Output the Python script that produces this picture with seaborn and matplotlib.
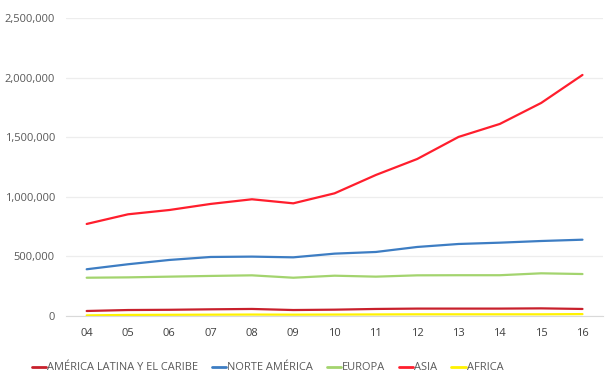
import pandas as pd
import matplotlib.pyplot as plt
import seaborn as sns
from matplotlib.ticker import FuncFormatter, FixedLocator

# Values
years = ['04', '05', '06', '07', '08', '09', '10', '11', '12', '13', '14', '15', '16']
america_latina = [42000, 50000, 52000, 56000, 59000, 50000, 53000, 59000, 62000, 62000, 62000, 64000, 59000]
norte_america = [392000, 434000, 470000, 495000, 498000, 492000, 523000, 537000, 579000, 604000, 615000, 629000, 640000]
europa = [321000, 324000, 330000, 336000, 341000, 321000, 338000, 330000, 341000, 342000, 342000, 358000, 352000]
asia = [772000, 853000, 889000, 940000, 979000, 945000, 1029000, 1183000, 1317000, 1502000, 1611000, 1787000, 2022000]
africa = [5000, 9000, 10000, 11000, 12000, 11000, 12000, 13000, 14000, 14000, 14000, 14000, 16000]

series = {
    'AMÉRICA LATINA Y EL CARIBE': america_latina,
    'NORTE AMÉRICA': norte_america,
    'EUROPA': europa,
    'ASIA': asia,
    'AFRICA': africa,
}
colors = {
    'AMÉRICA LATINA Y EL CARIBE': '#C8202C',
    'NORTE AMÉRICA': '#3D7DC3',
    'EUROPA': '#A3D46E',
    'ASIA': '#FF1E2D',
    'AFRICA': '#FFF200',
}

df = pd.DataFrame([
    {'year': y, 'region': name, 'value': v}
    for name, vals in series.items() for y, v in zip(years, vals)
])

sns.set_style('white')
plt.rcParams['font.family'] = ['Open Sans', 'DejaVu Sans']

fig, ax = plt.subplots(figsize=(6.08, 3.82), dpi=100)
fig.subplots_adjust(left=0.1086, right=0.992, top=0.953, bottom=0.1728)

sns.lineplot(data=df, x='year', y='value', hue='region', palette=colors,
             linewidth=1.6, ax=ax, legend=False, sort=False)

ax.set_ylim(0, 2500000)
ax.set_yticks(range(0, 2500001, 500000))
ax.yaxis.set_major_formatter(FuncFormatter(lambda v, p: f'{int(v):,}'))
ax.set_xlim(-0.5, len(years) - 0.5)
ax.xaxis.set_minor_locator(FixedLocator([i - 0.5 for i in range(len(years) + 1)]))
ax.grid(axis='y', color='#EDEDED', linewidth=0.9)
ax.set_axisbelow(True)

for s in ['top', 'right', 'left']:
    ax.spines[s].set_visible(False)
ax.spines['bottom'].set_color('#D9D9D9')
ax.tick_params(axis='y', length=0, labelsize=8, labelcolor='#595959', pad=8)
ax.tick_params(axis='x', which='major', length=0, labelsize=8, labelcolor='#404040', pad=9)
ax.tick_params(axis='x', which='minor', length=4, color='#D9D9D9')
ax.set_xlabel('')
ax.set_ylabel('')

handles = [plt.Line2D([], [], color=colors[n], linewidth=2) for n in series]
fig.legend(handles, list(series.keys()), loc='center', bbox_to_anchor=(0.44, 0.037),
           ncol=5, frameon=False, fontsize=7.9, labelcolor='#595959',
           handlelength=1.3, handletextpad=0.1, columnspacing=1.25)

plt.savefig('out.png', dpi=100)
